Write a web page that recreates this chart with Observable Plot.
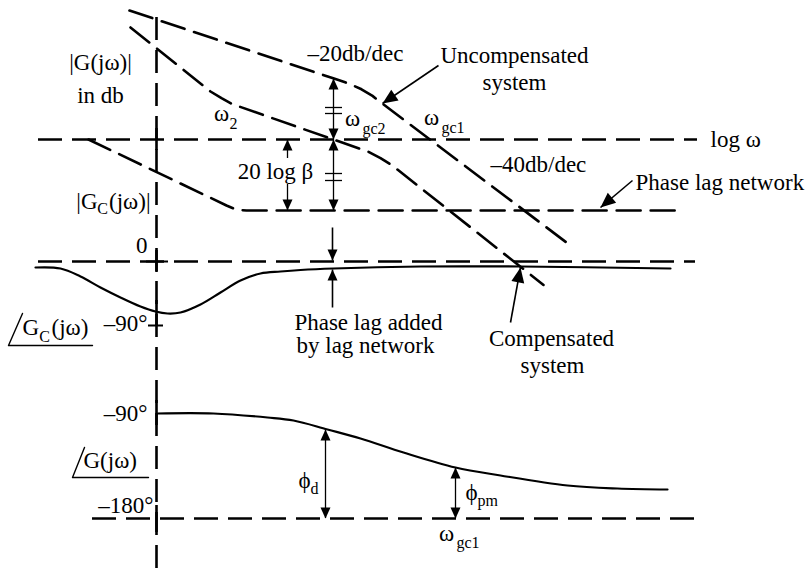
<!DOCTYPE html>
<html><head><meta charset="utf-8">
<script src="https://cdn.jsdelivr.net/npm/d3@7"></script>
<script src="https://cdn.jsdelivr.net/npm/@observablehq/plot@0.6"></script>
<style>body{margin:0;background:#fff}</style>
</head><body><div id="chart"></div>
<script>
// ---- Diagram geometry (x = log ω position, y = level, measured downward) ----
// Asymptotic magnitude plots (dashed)
const uncompensated = [[129,10],[335,78.6],[349,83.3],[361,88.8],[372,95.4],[382,103.2],[570,245]];
const compensated   = [[130,27],[210,91],[221,97.6],[232,103.7],[368,151.3],[380,157.6],[392,165.2],[543,284.4]];
const phaseLagNet   = [[88,139],[226,205],[236,209.2],[246,210],[683,210]];
// Phase curves (solid)
const phaseGc = [[35,267],[60,268],[80,276],[100,287],[120,297],[140,306],[155,311],[167,313],[180,312],[200,304],[220,292],[240,280],[260,273],[280,271],[300,269.5],[333,268],[420,266],[520,266],[670,268]];
const phaseG  = [[157,413],[213,413],[267,417],[293,420],[327,429],[360,438],[403,452],[455,467],[500,475],[567,485],[617,488],[667,489]];
// Reference lines: log ω axis (0 dB), 0° line of Gc, −180° line
const refLines = [{y:139,x1:38,x2:697},{y:261,x1:38,x2:695},{y:518,x1:92,x2:702}];
const axisV = [{x:156,y1:17,y2:568}];
const axisSolid = [{x:156,y1:128,y2:150},{x:156,y1:250,y2:272},{x:156,y1:300,y2:326},{x:156,y1:400,y2:425},{x:156,y1:505,y2:532}];
const axisTicks = [{y:325,x1:148,x2:163},{y:261,x1:146,x2:168}];
// Angle glyphs
const angleGc = [[22,313],[8,345],[92,345]];
const angleG  = [[84,447],[72,477],[148,477]];
// Double-headed measurement arrows
const vArrows = [
  {x:333,y1:78,y2:139},
  {x:333,y1:139,y2:210},
  {x:287,y1:139,y2:210,gap:[158,184]},
  {x:325,y1:429,y2:518},
  {x:455,y1:467,y2:518}
];
const breakMarks = [{y:107},{y:113},{y:173},{y:180}];
// Single arrows / pointers
const pointers = [
  {x1:332,y1:227,x2:332,y2:260,big:false},
  {x1:332,y1:307,x2:332,y2:269,big:false},
  {x1:438,y1:65,x2:382,y2:103,big:true},
  {x1:632,y1:180,x2:600,y2:207,big:true},
  {x1:510,y1:322,x2:520,y2:267,big:true}
];
// Labels [text, x, y, anchor]
const labels = [
  ["–20db/dec",355,53,"middle"],["Uncompensated",514,55,"middle"],["system",514,82,"middle"],
  ["|G(jω)|",100,62,"middle"],["in db",100,95,"middle"],
  ["ω",221,113,"middle"],["ω",352,118,"middle"],["ω",431,117,"middle"],
  ["log ω",710,139,"start"],["20 log β",275,171,"middle"],["–40db/dec",490,164,"start"],
  ["Phase lag network",635,182,"start"],
  ["(jω)|",150,201,"end"],["|G",97,201,"end"],["0",147,245,"end"],
  ["G",22,327,"start"],["(jω)",51,327,"start"],["–90°",147,323,"end"],
  ["Phase lag added",368,322,"middle"],["by lag network",365,345,"middle"],
  ["Compensated",551,338,"middle"],["system",552,365,"middle"],
  ["–90°",147,413,"end"],["G(jω)",83,460,"start"],["–180°",153,505,"end"],
  ["ϕ",304,480,"middle"],["ϕ",471,492,"middle"],["ω",446,533,"middle"]
];
const subLabels = [
  ["2",229,123,"start"],["gc2",362,128,"start"],["gc1",441,127,"start"],
  ["C",102,208,"middle"],["C",44,336,"middle"],
  ["d",310,488,"start"],["pm",477,500,"start"],["gc1",456,542,"start"]
];

// ---- derived mark data ----
const shafts = [];
for (const a of vArrows) {
  if (a.gap) { shafts.push({x:a.x,y1:a.y1,y2:a.gap[0]}, {x:a.x,y1:a.gap[1],y2:a.y2}); }
  else shafts.push({x:a.x,y1:a.y1,y2:a.y2});
}
const smallHeads = [];
for (const a of vArrows) { smallHeads.push({x:a.x,y:a.y1,angle:0},{x:a.x,y:a.y2,angle:180}); }
const bigHeads = [];
for (const p of pointers) {
  const h = {x:p.x2,y:p.y2,angle:Math.atan2(p.x2-p.x1, -(p.y2-p.y1))*180/Math.PI};
  (p.big ? bigHeads : smallHeads).push(h);
}
const triSmall = {draw(ctx){ctx.moveTo(0,0);ctx.lineTo(5,11);ctx.lineTo(-5,11);ctx.closePath();}};
const triBig = {draw(ctx){ctx.moveTo(0,0);ctx.lineTo(6.5,15);ctx.lineTo(-6.5,15);ctx.closePath();}};

const X = d => d[0], Y = d => d[1];
const font = "'Liberation Serif','Times New Roman',serif";
const dashed = {stroke:"#000", strokeWidth:2.6, strokeDasharray:"24,10"};

function textMarks(list, size) {
  return ["start","middle","end"].map(anchor =>
    Plot.text(list.filter(d => d[3] === anchor), {
      text:d=>d[0], x:d=>d[1], y:d=>d[2], textAnchor:anchor,
      fontSize:size, fontFamily:font, fill:"#000"
    }));
}

const chart = Plot.plot({
  width:810, height:568, margin:0,
  x:{domain:[0,810], range:[0,810], axis:null},
  y:{domain:[0,568], range:[0,568], axis:null},
  style:{background:"#fff", fontFamily:font},
  marks:[
    Plot.ruleX(axisV, {x:"x", y1:"y1", y2:"y2", stroke:"#000", strokeWidth:2.6, strokeDasharray:"23,10"}),
    Plot.ruleX(axisSolid, {x:"x", y1:"y1", y2:"y2", stroke:"#000", strokeWidth:2.6}),
    Plot.ruleY(axisTicks, {y:"y", x1:"x1", x2:"x2", stroke:"#000", strokeWidth:2}),
    Plot.ruleY(refLines, {y:"y", x1:"x1", x2:"x2", ...dashed}),
    Plot.line(uncompensated, {x:X, y:Y, ...dashed}),
    Plot.line(compensated, {x:X, y:Y, ...dashed}),
    Plot.line(phaseLagNet, {x:X, y:Y, ...dashed}),
    Plot.line(phaseGc, {x:X, y:Y, stroke:"#000", strokeWidth:2.2, curve:"catmull-rom"}),
    Plot.line(phaseG, {x:X, y:Y, stroke:"#000", strokeWidth:2.2, curve:"catmull-rom"}),
    Plot.line(angleGc, {x:X, y:Y, stroke:"#000", strokeWidth:1.4}),
    Plot.line(angleG, {x:X, y:Y, stroke:"#000", strokeWidth:1.4}),
    Plot.ruleX(shafts, {x:"x", y1:"y1", y2:"y2", stroke:"#000", strokeWidth:1.3}),
    Plot.ruleY(breakMarks, {y:"y", x1:325, x2:342, stroke:"#000", strokeWidth:1.3}),
    Plot.link(pointers, {x1:"x1", y1:"y1", x2:"x2", y2:"y2", stroke:"#000", strokeWidth:1.6}),
    Plot.dot(smallHeads, {x:"x", y:"y", rotate:"angle", symbol:triSmall, r:4, fill:"#000", stroke:"none"}),
    Plot.dot(bigHeads, {x:"x", y:"y", rotate:"angle", symbol:triBig, r:5, fill:"#000", stroke:"none"}),
    ...textMarks(labels, 23),
    ...textMarks(subLabels, 16)
  ]
});
document.getElementById("chart").append(chart);
</script>
</body></html>
